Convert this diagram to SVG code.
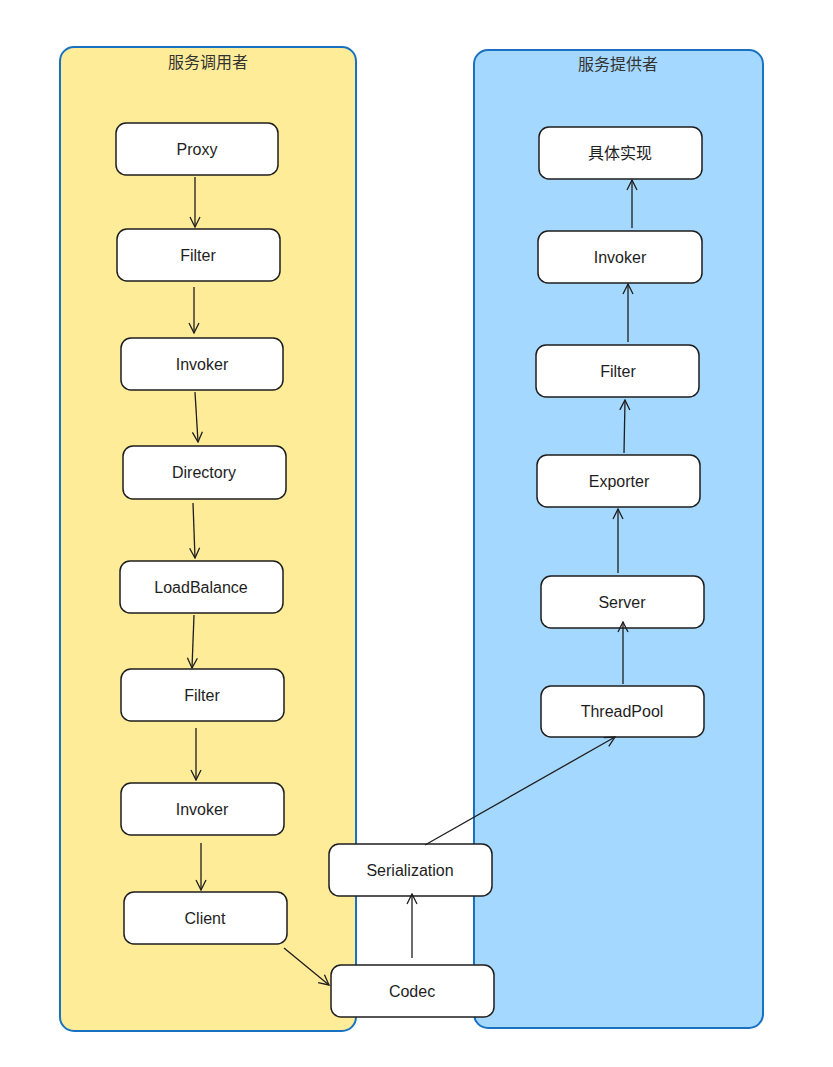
<svg xmlns="http://www.w3.org/2000/svg" width="833" height="1067" viewBox="0 0 833 1067">
<style>
.cont{stroke:#1971c2;stroke-width:2}
.node rect{fill:#fff;stroke:#1e1e1e;stroke-width:1.5}
text{font-family:"Liberation Sans","Noto Sans CJK SC",sans-serif;font-size:16px;fill:#1e1e1e;text-anchor:middle;dominant-baseline:central}
.title{font-size:16px;fill:#333}
.conn path{fill:none;stroke:#1e1e1e;stroke-width:1.3}
</style>
<defs>
<marker id="ah" viewBox="0 0 12 12" refX="11" refY="6" markerWidth="12" markerHeight="12" markerUnits="userSpaceOnUse" orient="auto">
<path d="M1,1 L11,6 L1,11" fill="none" stroke="#1e1e1e" stroke-width="1.3"/>
</marker>
</defs>
<rect width="833" height="1067" fill="#fff"/>
<g id="consumer">
<rect class="cont" x="60" y="47" width="296" height="984" rx="14" fill="#ffec99"/>
<text class="title" x="208" y="62">服务调用者</text>
</g>
<g id="provider">
<rect class="cont" x="474" y="50" width="289" height="978" rx="14" fill="#a5d8ff"/>
<text class="title" x="618" y="64">服务提供者</text>
</g>
<g id="c-proxy" class="node"><rect x="116" y="123" width="162" height="52" rx="10"/><text x="197" y="149">Proxy</text></g>
<g id="c-filter" class="node"><rect x="117" y="229" width="163" height="52" rx="10"/><text x="198" y="255">Filter</text></g>
<g id="c-invoker" class="node"><rect x="121" y="338" width="162" height="52" rx="10"/><text x="202" y="364">Invoker</text></g>
<g id="c-directory" class="node"><rect x="123" y="446" width="163" height="53" rx="10"/><text x="204" y="472">Directory</text></g>
<g id="c-loadbalance" class="node"><rect x="120" y="561" width="163" height="52" rx="10"/><text x="201" y="587">LoadBalance</text></g>
<g id="c-filter2" class="node"><rect x="121" y="669" width="163" height="52" rx="10"/><text x="202" y="695">Filter</text></g>
<g id="c-invoker2" class="node"><rect x="121" y="783" width="163" height="52" rx="10"/><text x="202" y="809">Invoker</text></g>
<g id="c-client" class="node"><rect x="124" y="892" width="163" height="52" rx="10"/><text x="205" y="918">Client</text></g>
<g id="serialization" class="node"><rect x="329" y="844" width="163" height="52" rx="10"/><text x="410" y="870">Serialization</text></g>
<g id="codec" class="node"><rect x="331" y="965" width="163" height="52" rx="10"/><text x="412" y="991">Codec</text></g>
<g id="p-impl" class="node"><rect x="539" y="127" width="163" height="52" rx="10"/><text x="620" y="153">具体实现</text></g>
<g id="p-invoker" class="node"><rect x="538" y="231" width="164" height="52" rx="10"/><text x="620" y="257">Invoker</text></g>
<g id="p-filter" class="node"><rect x="536" y="345" width="163" height="52" rx="10"/><text x="618" y="371">Filter</text></g>
<g id="p-exporter" class="node"><rect x="537" y="455" width="163" height="52" rx="10"/><text x="619" y="481">Exporter</text></g>
<g id="p-server" class="node"><rect x="541" y="576" width="163" height="52" rx="10"/><text x="622" y="602">Server</text></g>
<g id="p-threadpool" class="node"><rect x="541" y="686" width="163" height="51" rx="10"/><text x="622" y="711">ThreadPool</text></g>
<g id="connectors" class="conn">
<path d="M195,177 L195,227" marker-end="url(#ah)"/>
<path d="M194,287 L194,333" marker-end="url(#ah)"/>
<path d="M195,392 L198,442" marker-end="url(#ah)"/>
<path d="M193,503 L195,558" marker-end="url(#ah)"/>
<path d="M194,615 L192,668" marker-end="url(#ah)"/>
<path d="M196,728 L196,780" marker-end="url(#ah)"/>
<path d="M201,843 L201,890" marker-end="url(#ah)"/>
<path d="M284,948 L329,985" marker-end="url(#ah)"/>
<path d="M412,958 L412,894" marker-end="url(#ah)"/>
<path d="M425,845 L615,737" marker-end="url(#ah)"/>
<path d="M623,684 L623,622" marker-end="url(#ah)"/>
<path d="M618,573 L618,509" marker-end="url(#ah)"/>
<path d="M624,453 L625,400" marker-end="url(#ah)"/>
<path d="M628,342 L628,284" marker-end="url(#ah)"/>
<path d="M632,228 L632,180" marker-end="url(#ah)"/>
</g>
</svg>
